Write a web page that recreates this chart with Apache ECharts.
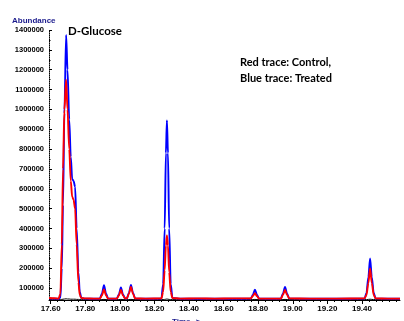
<!DOCTYPE html>
<html>
<head>
<meta charset="utf-8">
<script src="https://cdn.jsdelivr.net/npm/echarts@6/dist/echarts.min.js"></script>
<style>
html,body{margin:0;padding:0;background:#fff;}
#chart{width:404px;height:321px;}
</style>
</head>
<body>
<div id="chart"></div>
<script>
// Retention time (min)
const times = [
 17.59,17.62,17.645,17.656,17.664,17.671,17.679,17.689,17.697,17.707,17.716,17.724,17.732,17.741,17.75,17.76,17.768,17.777,17.8,17.85,
 17.884,17.896,17.908,17.92,17.932,17.96,
 17.982,17.994,18.006,18.018,18.03,
 18.04,18.052,18.064,18.076,18.088,18.15,
 18.24,18.25,18.259,18.266,18.272,18.278,18.285,18.294,18.304,18.35,18.45,18.55,18.65,
 18.757,18.769,18.781,18.793,18.805,18.88,
 18.931,18.943,18.955,18.967,18.979,19.1,19.25,
 19.415,19.426,19.437,19.447,19.457,19.468,19.479,19.55,19.62
];
// Blue trace: Treated
const blueValues = [
 48000,47000,46000,52000,200000,520000,980000,1375000,1200000,950000,760000,650000,640000,610000,400000,180000,80000,50000,47000,46000,
 47000,72000,115000,72000,47000,46000,
 47000,68000,103000,68000,48000,
 47000,76000,116000,76000,48000,46000,
 47000,120000,400000,780000,945000,780000,400000,120000,50000,46000,46000,46000,46000,
 47000,66000,92000,66000,47000,46000,
 47000,72000,106000,72000,48000,46000,46000,
 47000,75000,155000,249000,155000,75000,48000,46000,46000
];
// Red trace: Control
const redValues = [
 50000,49000,47000,70000,320000,700000,1000000,1150000,1000000,800000,640000,560000,545000,500000,320000,130000,65000,50000,48000,47000,
 47000,63000,93000,63000,47000,47000,
 47000,63000,90000,62000,49000,
 48000,71000,106000,71000,48000,47000,
 48000,80000,190000,315000,365000,315000,180000,80000,50000,47000,48000,47000,48000,
 48000,60000,74000,59000,47000,47000,
 47000,65000,90000,65000,48000,47000,47000,
 48000,65000,125000,199000,125000,65000,48000,47000,47000
];
// Black baseline trace
const blackValues = [
 43000,43000,42000,42000,43000,44000,45000,46000,45000,45000,44000,44000,44000,44000,43000,43000,42000,42000,42000,42000,
 42000,42000,43000,42000,42000,42000,
 42000,42000,43000,42000,42000,
 42000,42000,43000,42000,42000,42000,
 42000,42000,43000,44000,45000,44000,43000,42000,42000,42000,42000,42000,42000,
 42000,42000,43000,42000,42000,42000,
 42000,42000,43000,42000,42000,42000,42000,
 42000,42000,43000,44000,43000,42000,42000,42000,42000
];
const xTickLabels = [17.6,17.8,18.0,18.2,18.4,18.6,18.8,19.0,19.2,19.4];
const yTickLabels = [100000,200000,300000,400000,500000,600000,700000,800000,900000,1000000,1100000,1200000,1300000,1400000];

const minorX = [];
for (let i = 0; i <= 50; i++) { const v = +(17.6 + i * 0.04).toFixed(2); if (v <= 19.62) minorX.push(v); }
const minorY = [];
for (let i = 0; i <= 27; i++) { const v = 50000 + i * 50000; if (v <= 1400000) minorY.push(v); }

const pair = (vals) => times.map((t, i) => [t, vals[i]]);

const chart = echarts.init(document.getElementById('chart'), null, {renderer: 'canvas'});
const lblFont = {fontFamily: '"Liberation Sans", Arial, sans-serif', fontWeight: 'bold', color: '#000'};
chart.setOption({
  animation: false,
  backgroundColor: '#fff',
  grid: {left: 49, right: 4, top: 30, bottom: 21, containLabel: false},
  xAxis: [{
    type: 'value', min: 17.59, max: 19.62,
    axisLine: {show: true, lineStyle: {color: '#000', width: 1}},
    axisTick: {show: true, length: 4, lineStyle: {color: '#000'}, customValues: xTickLabels},
    axisLabel: Object.assign({fontSize: 8, margin: 5, customValues: xTickLabels,
      formatter: v => v.toFixed(2)}, lblFont),
    splitLine: {show: false}
  }, {
    type: 'value', min: 17.59, max: 19.62, position: 'bottom',
    axisLine: {show: false},
    axisTick: {show: true, length: 2, lineStyle: {color: '#000'}, customValues: minorX},
    axisLabel: {show: false},
    splitLine: {show: false}
  }],
  yAxis: [{
    type: 'value', min: 40000, max: 1400000,
    axisLine: {show: true, lineStyle: {color: '#000', width: 1, type: 'dotted'}},
    axisTick: {show: true, length: 3, inside: true, lineStyle: {color: '#000'}, customValues: yTickLabels},
    axisLabel: Object.assign({fontSize: 7.5, margin: 5, customValues: yTickLabels,
      formatter: v => String(Math.round(v))}, lblFont),
    splitLine: {show: false}
  }, {
    type: 'value', min: 40000, max: 1400000, position: 'left',
    axisLine: {show: false},
    axisTick: {show: true, length: 1.5, inside: true, lineStyle: {color: '#000'}, customValues: minorY},
    axisLabel: {show: false},
    splitLine: {show: false}
  }],
  series: [
    {type: 'line', name: 'Baseline', data: pair(blackValues), showSymbol: false, symbol: 'none',
      lineStyle: {color: '#000', width: 1}, smooth: 0.3, smoothMonotone: 'x', z: 1},
    {type: 'line', name: 'Treated', data: pair(blueValues), showSymbol: false, symbol: 'none',
      lineStyle: {color: '#0000ff', width: 1.9}, smooth: 0.3, smoothMonotone: 'x', z: 2},
    {type: 'line', name: 'Control', data: pair(redValues), showSymbol: false, symbol: 'none',
      lineStyle: {color: '#ff0000', width: 1.9}, smooth: 0.3, smoothMonotone: 'x', z: 3}
  ],
  graphic: [
    {type: 'text', left: 12, top: 17, style: {text: 'Abundance', fontSize: 8, fontWeight: 'bold',
      fontFamily: '"Liberation Sans", Arial, sans-serif', fill: '#1a1a8c'}},
    {type: 'text', left: 68, top: 25, style: {text: 'D-Glucose', fontSize: 11.5, fontWeight: 'bold',
      fontFamily: 'Lato, "Open Sans", sans-serif', fill: '#000'}},
    {type: 'text', left: 240, top: 57, style: {text: 'Red trace: Control,', fontSize: 11, fontWeight: 'bold',
      fontFamily: 'Lato, "Open Sans", sans-serif', fill: '#000'}},
    {type: 'text', left: 240, top: 73, style: {text: 'Blue trace: Treated', fontSize: 11, fontWeight: 'bold',
      fontFamily: 'Lato, "Open Sans", sans-serif', fill: '#000'}},
    {type: 'text', left: 172, top: 318, style: {text: 'Time-->', fontSize: 8, fontWeight: 'bold',
      fontFamily: '"Liberation Sans", Arial, sans-serif', fill: '#1a1a8c'}}
  ]
});
</script>
</body>
</html>
